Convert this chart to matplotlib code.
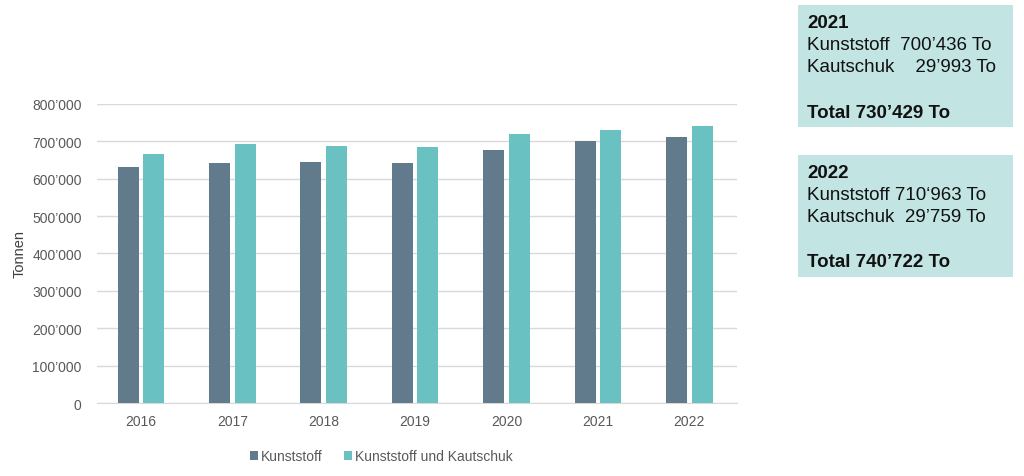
import matplotlib
matplotlib.use("Agg")
import matplotlib.pyplot as plt
import numpy as np
from matplotlib.patches import Rectangle

plt.rcParams['font.family'] = ['Liberation Sans', 'DejaVu Sans']

years = ['2016', '2017', '2018', '2019', '2020', '2021', '2022']
kunststoff = [630000, 643000, 644000, 642000, 677000, 700436, 710963]
kunst_kautschuk = [667000, 692000, 687000, 686000, 720000, 730429, 740722]
series_names = ['Kunststoff', 'Kunststoff und Kautschuk']
yticks = [0, 100000, 200000, 300000, 400000, 500000, 600000, 700000, 800000]

box_texts = [
    ("2021", "Kunststoff  700’436 To", "Kautschuk    29’993 To", "Total 730’429 To"),
    ("2022", "Kunststoff 710‘963 To", "Kautschuk  29’759 To", "Total 740’722 To"),
]

c1 = '#627b8c'
c2 = '#69c1c1'
tick_col = '#595959'

fig = plt.figure(figsize=(10.24, 4.77), dpi=100)
ax = fig.add_axes([0.0947, 0.153, 0.625, 0.627])

x = np.arange(len(years))
w = 0.23
ax.bar(x - 0.14, kunststoff, w, color=c1, label=series_names[0], zorder=3)
ax.bar(x + 0.14, kunst_kautschuk, w, color=c2, label=series_names[1], zorder=3)

ax.set_xlim(-0.48, 6.52)
ax.set_ylim(0, 800000)
ax.set_yticks(yticks)
ax.set_yticklabels(['0' if v == 0 else f"{v//1000}’000" for v in yticks])
ax.set_xticks(x)
ax.set_xticklabels(years)
ax.tick_params(axis='y', length=0, labelsize=10, labelcolor=tick_col, pad=11)
ax.tick_params(axis='x', length=0, labelsize=10, labelcolor=tick_col, pad=8)
ax.grid(axis='y', color='#d9d9d9', linewidth=1, zorder=0)
for s in ['top', 'right', 'left']:
    ax.spines[s].set_visible(False)
ax.spines['bottom'].set_color('#d9d9d9')
ax.set_ylabel('Tonnen', fontsize=10.5, color='#404040', labelpad=4)

leg = ax.legend(loc='center', bbox_to_anchor=(0.444, -0.178), ncol=2, frameon=False,
                fontsize=10, handlelength=0.6, handleheight=0.6, handletextpad=0.2,
                columnspacing=1.5, labelcolor=tick_col)

# info boxes
W, H = 1024, 477
offsets = [17, 40, 62, 107]
for i, lines in enumerate(box_texts):
    top = 6 + i * 150
    fig.patches.append(Rectangle((798 / W, 1 - (top + 122) / H), 215 / W, 122 / H,
                                 transform=fig.transFigure, facecolor='#c2e5e4',
                                 edgecolor='none'))
    xl = 807 / W
    for j, (txt, off) in enumerate(zip(lines, offsets)):
        fig.text(xl, 1 - (top + off) / H, txt, fontsize=13.5,
                 fontweight='bold' if j in (0, 3) else 'normal', va='center',
                 color='#111111')

fig.savefig('out.png', dpi=100)
